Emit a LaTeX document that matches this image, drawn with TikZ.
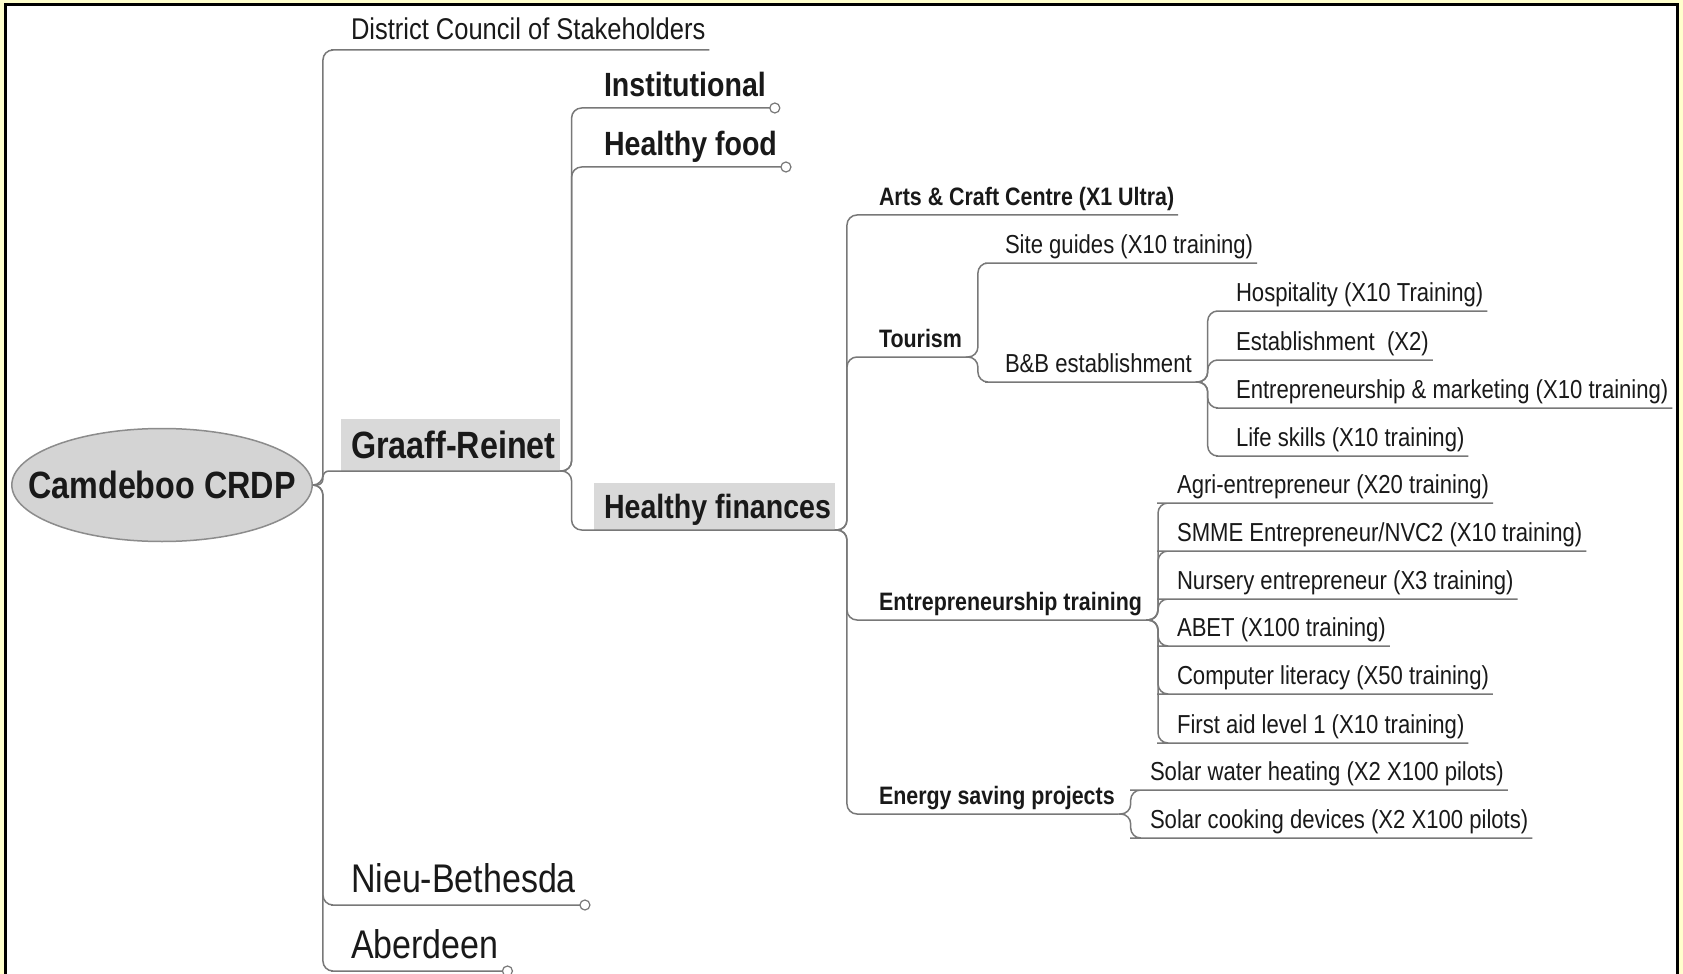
\documentclass[tikz,border=0pt]{standalone}
\usepackage{fontspec}
\setmainfont{Liberation Sans}[FakeStretch=0.85]
\usetikzlibrary{shapes.geometric}

\definecolor{framey}{RGB}{255,255,204}
\definecolor{boxgray}{RGB}{217,217,217}
\definecolor{rootgray}{RGB}{212,212,212}
\definecolor{rootline}{RGB}{140,140,140}
\definecolor{linegray}{RGB}{120,120,120}
\definecolor{txt}{RGB}{25,25,25}

\tikzset{
  topic/.style={anchor=south west, inner xsep=2pt, inner ysep=2pt, outer sep=0pt,
    text=txt, execute at begin node=\hspace*{3pt}},
  boxed/.style={fill=boxgray, text height=#1},
  rootnode/.style={ellipse, draw=rootline, fill=rootgray, line width=0.75pt,
    minimum width=150pt, minimum height=56.5pt, inner xsep=-13.75pt, inner ysep=0pt,
    text=txt, font=\bfseries\fontsize{19pt}{23pt}\selectfont},
  city/.style={font=\bfseries\fontsize{19pt}{23pt}\selectfont, text height=15.2pt, text depth=4.2pt},
  town/.style={font=\fontsize{20pt}{24pt}\selectfont, text height=16pt, text depth=4.4pt},
  council/.style={font=\fontsize{15pt}{18pt}\selectfont, text height=12pt, text depth=3.3pt},
  theme/.style={font=\bfseries\fontsize{16.8pt}{20pt}\selectfont, text height=13.4pt, text depth=3.7pt},
  project/.style={font=\bfseries\fontsize{12.6pt}{15pt}\selectfont, text height=10.1pt, text depth=2.8pt},
  item/.style={font=\fontsize{13pt}{16pt}\selectfont, text height=10.4pt, text depth=2.9pt},
  link/.style={draw=linegray, line width=0.75pt, rounded corners=5pt},
  marker/.style={draw=linegray, fill=white, line width=0.6pt}
}

\begin{document}
\begin{tikzpicture}[x=0.5pt, y=-0.5pt]
    \useasboundingbox (0,0) rectangle (1683,974);
    % frame
    \fill[framey] (0,0) rectangle (1683,974);
    \fill[white] (6,5) rectangle (1677,974);
    \draw[line width=1.5pt] (5.5,974) -- (5.5,4.5) -- (1677.5,4.5) -- (1677.5,974);

    \node[rootnode] (crdp) at (162,485) {Camdeboo CRDP};
    % first level
    \node[topic, council] (dcs) at (341,50) {District Council of Stakeholders};
    \node[topic, city, boxed=18pt] (graaff) at (341,471) {Graaff-Reinet};
    \node[topic, town] (nieu) at (341,905) {Nieu-Bethesda};
    \node[topic, town] (aber) at (341,971) {Aberdeen};
    % Graaff-Reinet
    \node[topic, theme] (inst) at (594,108) {Institutional};
    \node[topic, theme] (food) at (594,167) {Healthy food};
    \node[topic, theme, boxed=16pt] (fin) at (594,530) {Healthy finances};
    % Healthy finances
    \node[topic, project] (arts) at (869,215) {Arts \& Craft Centre (X1 Ultra)};
    \node[topic, project] (tour) at (869,357) {Tourism};
    \node[topic, project] (entr) at (869,620) {Entrepreneurship training};
    \node[topic, project] (energy) at (869,814) {Energy saving projects};
    % Tourism
    \node[topic, item] (site) at (995,263) {Site guides (X10 training)};
    \node[topic, item] (bnb) at (995,382) {B\&B establishment};
    % B&B establishment
    \node[topic, item] (hosp) at (1226,311) {Hospitality (X10 Training)};
    \node[topic, item] (estab) at (1226,360) {Establishment~ (X2)};
    \node[topic, item] (market) at (1226,408) {Entrepreneurship \& marketing (X10 training)};
    \node[topic, item] (life) at (1226,456) {Life skills (X10 training)};
    % Entrepreneurship training
    \node[topic, item] (agri) at (1167,503) {Agri-entrepreneur (X20 training)};
    \node[topic, item] (smme) at (1167,551) {SMME Entrepreneur/NVC2 (X10 training)};
    \node[topic, item] (nurs) at (1167,599) {Nursery entrepreneur (X3 training)};
    \node[topic, item] (abet) at (1167,646) {ABET (X100 training)};
    \node[topic, item] (comp) at (1167,694) {Computer literacy (X50 training)};
    \node[topic, item] (aid) at (1167,743) {First aid level 1 (X10 training)};
    % Energy saving projects
    \node[topic, item] (water) at (1140,790) {Solar water heating (X2 X100 pilots)};
    \node[topic, item] (cook) at (1140,838) {Solar cooking devices (X2 X100 pilots)};

    % branches
    \draw[link] (crdp.east) -- ++(10,0) |- (dcs.south west) -- (dcs.south east);
    \draw[link, rounded corners=3pt] (crdp.east) -- ++(10,0) |- (graaff.south west) -- (graaff.south east);
    \draw[link] (crdp.east) -- ++(10,0) |- (nieu.south west) -- (nieu.south east);
    \draw[link] (crdp.east) -- ++(10,0) |- (aber.south west) -- (aber.south east);
    \draw[link] (graaff.south east) -- ++(12,0) |- (inst.south west) -- (inst.south east);
    \draw[link] (graaff.south east) -- ++(12,0) |- (food.south west) -- (food.south east);
    \draw[link] (graaff.south east) -- ++(12,0) |- (fin.south west) -- (fin.south east);
    \draw[link] (fin.south east) -- ++(12,0) |- (arts.south west) -- (arts.south east);
    \draw[link] (fin.south east) -- ++(12,0) |- (tour.south west) -- (tour.south east);
    \draw[link] (fin.south east) -- ++(12,0) |- (entr.south west) -- (entr.south east);
    \draw[link] (fin.south east) -- ++(12,0) |- (energy.south west) -- (energy.south east);
    \draw[link] (tour.south east) -- ++(12,0) |- (site.south west) -- (site.south east);
    \draw[link] (tour.south east) -- ++(12,0) |- (bnb.south west) -- (bnb.south east);
    \draw[link] (bnb.south east) -- ++(12,0) |- (hosp.south west) -- (hosp.south east);
    \draw[link] (bnb.south east) -- ++(12,0) |- (estab.south west) -- (estab.south east);
    \draw[link] (bnb.south east) -- ++(12,0) |- (market.south west) -- (market.south east);
    \draw[link] (bnb.south east) -- ++(12,0) |- (life.south west) -- (life.south east);
    \draw[link] (entr.south east) -- ++(12,0) |- (agri.south west) -- (agri.south east);
    \draw[link] (entr.south east) -- ++(12,0) |- (smme.south west) -- (smme.south east);
    \draw[link] (entr.south east) -- ++(12,0) |- (nurs.south west) -- (nurs.south east);
    \draw[link] (entr.south east) -- ++(12,0) |- (abet.south west) -- (abet.south east);
    \draw[link] (entr.south east) -- ++(12,0) |- (comp.south west) -- (comp.south east);
    \draw[link] (entr.south east) -- ++(12,0) |- (aid.south west) -- (aid.south east);
    \draw[link] (energy.south east) -- ++(12,0) |- (water.south west) -- (water.south east);
    \draw[link] (energy.south east) -- ++(12,0) |- (cook.south west) -- (cook.south east);

    % collapsed markers
    \filldraw[marker] ([xshift=2.5pt]inst.south east) circle (2.5pt);
    \filldraw[marker] ([xshift=2.5pt]food.south east) circle (2.5pt);
    \filldraw[marker] ([xshift=2.5pt]nieu.south east) circle (2.5pt);
    \filldraw[marker] ([xshift=2.5pt]aber.south east) circle (2.5pt);
\end{tikzpicture}
\end{document}
